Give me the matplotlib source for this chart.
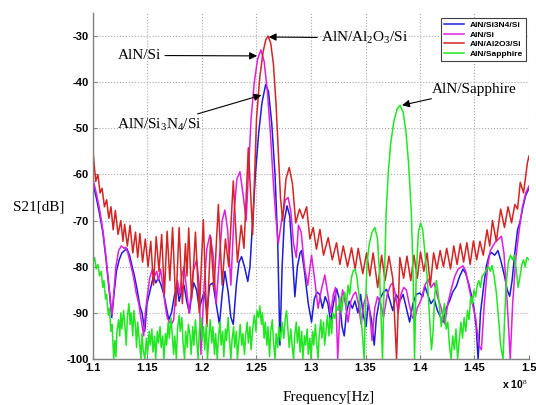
import matplotlib
matplotlib.use("Agg")
import matplotlib.pyplot as plt

plt.rcParams['mathtext.fontset'] = 'custom'
plt.rcParams['mathtext.rm'] = 'Liberation Serif'
plt.rcParams['mathtext.it'] = 'Liberation Serif:italic'

# ---------------- data (frequency in units of 1e8 Hz, S21 in dB) ----------------
red_x = [1.1000, 1.1025, 1.1045, 1.1065, 1.1083, 1.1105, 1.1125, 1.1145, 1.1165, 1.1185,
         1.1205, 1.1230, 1.1255, 1.1275, 1.1290, 1.1315, 1.1340, 1.1365, 1.1390, 1.1410,
         1.1430, 1.1455, 1.1480, 1.1505, 1.1530, 1.1555, 1.1580, 1.1605, 1.1630, 1.1655,
         1.1680, 1.1705, 1.1730, 1.1760, 1.1790, 1.1820, 1.1848, 1.1862, 1.1878, 1.1905,
         1.1940, 1.1975, 1.2012, 1.2045, 1.2080, 1.2110, 1.2150, 1.2185, 1.2215, 1.2245,
         1.2287, 1.2325, 1.2360, 1.2385, 1.2425, 1.2465, 1.2500, 1.2530, 1.2560, 1.2585,
         1.2606, 1.2630, 1.2655, 1.2680, 1.2700, 1.2720, 1.2740, 1.2770, 1.2800, 1.2830,
         1.2860, 1.2895, 1.2925, 1.2960, 1.2990, 1.3020, 1.3050, 1.3082, 1.3115, 1.3158,
         1.3195, 1.3234, 1.3265, 1.3296, 1.3335, 1.3372, 1.3405, 1.3433, 1.3475, 1.3510,
         1.3540, 1.3570, 1.3612, 1.3648, 1.3680, 1.3715, 1.3750, 1.3785, 1.3815, 1.3850,
         1.3880, 1.3915, 1.3945, 1.3975, 1.4005, 1.4035, 1.4065, 1.4095, 1.4125, 1.4155,
         1.4185, 1.4215, 1.4245, 1.4280, 1.4310, 1.4340, 1.4370, 1.4400, 1.4430, 1.4460,
         1.4490, 1.4520, 1.4550, 1.4580, 1.4615, 1.4640, 1.4665, 1.4700, 1.4740, 1.4775,
         1.4808, 1.4840, 1.4870, 1.4895, 1.4920, 1.4950, 1.4985, 1.5000]
red_y = [-55.0, -61.5, -60.0, -64.0, -63.0, -67.0, -65.5, -69.5, -67.0, -72.0,
         -67.8, -73.0, -70.0, -74.5, -70.8, -75.5, -71.0, -77.0, -72.5, -78.0,
         -72.8, -79.0, -74.0, -80.0, -74.5, -84.0, -73.5, -81.0, -73.0, -86.0,
         -72.3, -83.0, -71.5, -88.5, -71.5, -88.0, -75.0, -82.0, -71.6, -87.0,
         -72.5, -90.0, -69.8, -93.0, -73.5, -85.0, -66.5, -84.0, -74.0, -80.0,
         -61.4, -79.0, -71.0, -76.0, -54.2, -73.0, -48.0, -39.0, -33.5, -30.8,
         -30.0, -31.5, -36.0, -45.0, -55.0, -65.0, -70.0, -61.0, -58.5, -62.0,
         -70.5, -67.5, -69.5, -67.0, -74.0, -71.5, -76.2, -71.9, -77.5, -73.7,
         -78.5, -74.8, -79.5, -75.5, -80.0, -75.9, -80.5, -76.0, -81.5, -77.0,
         -82.0, -77.0, -84.5, -77.5, -83.0, -77.7, -82.5, -100.0, -78.0, -82.5,
         -77.7, -83.0, -77.5, -82.5, -76.8, -81.0, -77.0, -84.0, -77.0, -80.5,
         -76.5, -80.0, -76.0, -80.5, -75.5, -79.5, -75.0, -79.0, -74.8, -79.5,
         -74.4, -78.5, -74.5, -77.5, -72.0, -75.5, -70.0, -74.5, -67.5, -71.5,
         -67.0, -70.5, -66.5, -67.5, -61.7, -64.0, -57.5, -56.0]

mag_x = [1.1000, 1.1030, 1.1060, 1.1090, 1.1120, 1.1150, 1.1175, 1.1190, 1.1210, 1.1235,
         1.1260, 1.1285, 1.1300, 1.1320, 1.1345, 1.1370, 1.1395, 1.1420, 1.1445, 1.1465,
         1.1480, 1.1500, 1.1520, 1.1545, 1.1565, 1.1585, 1.1600, 1.1620, 1.1640, 1.1660,
         1.1680, 1.1700, 1.1720, 1.1740, 1.1755, 1.1775, 1.1795, 1.1815, 1.1835, 1.1855,
         1.1880, 1.1900, 1.1920, 1.1950, 1.1975, 1.1990, 1.2020, 1.2045, 1.2073, 1.2100,
         1.2130, 1.2160, 1.2185, 1.2210, 1.2235, 1.2265, 1.2295, 1.2320, 1.2348, 1.2375,
         1.2405, 1.2425, 1.2450, 1.2480, 1.2510, 1.2541, 1.2570, 1.2600, 1.2630, 1.2655,
         1.2680, 1.2700, 1.2730, 1.2765, 1.2790, 1.2815, 1.2840, 1.2865, 1.2885, 1.2910,
         1.2940, 1.2970, 1.3005, 1.3035, 1.3065, 1.3095, 1.3127, 1.3155, 1.3180, 1.3205,
         1.3225, 1.3245, 1.3265, 1.3290, 1.3315, 1.3340, 1.3365, 1.3390, 1.3410, 1.3435,
         1.3460, 1.3485, 1.3510, 1.3535, 1.3560, 1.3585, 1.3610, 1.3640, 1.3665, 1.3700,
         1.3730, 1.3750, 1.3775, 1.3800, 1.3825, 1.3850, 1.3875, 1.3900, 1.3930, 1.3950,
         1.3975, 1.4013, 1.4045, 1.4074, 1.4100, 1.4130, 1.4160, 1.4195, 1.4227, 1.4255,
         1.4285, 1.4320, 1.4350, 1.4395, 1.4420, 1.4445, 1.4480, 1.4510, 1.4540, 1.4563,
         1.4590, 1.4620, 1.4645, 1.4686, 1.4720, 1.4747, 1.4770, 1.4790, 1.4810, 1.4828,
         1.4850, 1.4880, 1.4910, 1.4940, 1.4970, 1.5000]
mag_y = [-61.0, -64.0, -67.5, -72.0, -78.0, -85.0, -90.5, -86.0, -80.0, -76.5,
         -75.5, -76.0, -75.8, -77.0, -79.5, -82.0, -85.5, -88.0, -92.0, -95.0,
         -90.0, -86.0, -82.5, -80.5, -82.0, -81.0, -83.0, -80.5, -84.0, -88.0,
         -91.0, -92.0, -92.5, -91.5, -87.0, -83.0, -86.0, -82.0, -80.0, -84.0,
         -90.0, -86.0, -81.0, -78.5, -84.0, -99.0, -84.0, -76.0, -73.1, -77.0,
         -88.0, -78.0, -70.0, -67.7, -72.0, -84.0, -68.0, -61.0, -59.4, -64.0,
         -70.0, -60.0, -48.0, -40.0, -35.0, -33.0, -35.5, -42.0, -52.0, -62.0,
         -70.0, -75.0, -70.0, -65.5, -65.0, -68.0, -75.0, -78.0, -71.0, -72.5,
         -80.0, -84.0, -77.5, -83.0, -89.0, -85.0, -81.8, -86.0, -90.0, -86.0,
         -84.5, -100.0, -90.0, -85.0, -88.0, -92.0, -87.5, -86.0, -85.5, -88.0,
         -92.5, -88.0, -86.0, -89.0, -96.0, -89.0, -86.5, -88.0, -91.0, -86.0,
         -84.0, -83.5, -86.0, -90.0, -86.0, -84.5, -85.0, -88.0, -91.0, -91.5,
         -89.0, -87.0, -84.0, -82.7, -84.5, -83.5, -86.5, -89.0, -92.4, -88.0,
         -85.0, -82.0, -80.5, -79.8, -81.0, -84.0, -88.0, -91.0, -97.0, -98.0,
         -88.0, -80.0, -76.5, -74.8, -74.0, -73.4, -77.0, -84.0, -92.0, -100.0,
         -88.0, -78.0, -72.0, -67.0, -64.0, -62.5]

blue_x = [1.1000, 1.1030, 1.1060, 1.1090, 1.1120, 1.1150, 1.1172, 1.1190, 1.1215, 1.1240,
          1.1265, 1.1290, 1.1310, 1.1335, 1.1360, 1.1380, 1.1405, 1.1430, 1.1450, 1.1475,
          1.1495, 1.1515, 1.1535, 1.1555, 1.1575, 1.1600, 1.1625, 1.1650, 1.1670, 1.1695,
          1.1720, 1.1745, 1.1770, 1.1790, 1.1810, 1.1835, 1.1860, 1.1885, 1.1905, 1.1925,
          1.1950, 1.1975, 1.2000, 1.2020, 1.2045, 1.2070, 1.2100, 1.2130, 1.2160, 1.2185,
          1.2210, 1.2240, 1.2265, 1.2287, 1.2315, 1.2340, 1.2363, 1.2390, 1.2420, 1.2440,
          1.2465, 1.2490, 1.2520, 1.2550, 1.2584, 1.2610, 1.2640, 1.2670, 1.2695, 1.2715,
          1.2735, 1.2755, 1.2780, 1.2805, 1.2830, 1.2852, 1.2875, 1.2900, 1.2913, 1.2940,
          1.2975, 1.3005, 1.3030, 1.3055, 1.3080, 1.3105, 1.3130, 1.3155, 1.3180, 1.3205,
          1.3235, 1.3260, 1.3285, 1.3305, 1.3325, 1.3350, 1.3380, 1.3403, 1.3430, 1.3455,
          1.3480, 1.3505, 1.3525, 1.3555, 1.3580, 1.3600, 1.3630, 1.3665, 1.3693, 1.3720,
          1.3750, 1.3780, 1.3815, 1.3845, 1.3875, 1.3905, 1.3935, 1.3965, 1.3999, 1.4025,
          1.4044, 1.4070, 1.4100, 1.4130, 1.4160, 1.4190, 1.4212, 1.4240, 1.4270, 1.4300,
          1.4334, 1.4365, 1.4395, 1.4420, 1.4445, 1.4470, 1.4495, 1.4515, 1.4533, 1.4555,
          1.4585, 1.4610, 1.4635, 1.4655, 1.4685, 1.4715, 1.4745, 1.4775, 1.4800, 1.4823,
          1.4845, 1.4870, 1.4895, 1.4915, 1.4945, 1.4970, 1.5000]
blue_y = [-62.0, -65.0, -68.5, -72.5, -78.5, -85.5, -91.0, -86.5, -81.0, -78.5,
          -77.0, -76.5, -76.0, -77.5, -80.0, -82.0, -85.0, -88.5, -90.0, -94.0,
          -88.0, -86.0, -84.0, -82.0, -83.5, -82.5, -84.0, -86.0, -88.5, -91.5,
          -90.0, -86.5, -84.0, -87.5, -85.5, -84.0, -87.5, -90.0, -86.0, -83.5,
          -85.0, -89.0, -87.0, -85.5, -90.0, -84.0, -83.5, -88.0, -92.5, -86.0,
          -81.0, -85.5, -91.0, -92.5, -84.0, -79.0, -77.8, -80.0, -83.2, -80.0,
          -70.0, -60.0, -51.0, -44.5, -40.5, -42.0, -49.0, -60.0, -75.0, -97.0,
          -80.0, -70.0, -66.8, -69.0, -78.0, -86.5, -80.0, -77.0, -76.5, -81.0,
          -88.0, -92.0, -87.0, -85.5, -86.0, -89.0, -86.5, -88.0, -92.0, -88.0,
          -84.8, -87.0, -93.0, -95.0, -90.0, -87.5, -89.0, -87.4, -90.0, -86.0,
          -90.5, -93.0, -88.0, -91.5, -97.0, -91.0, -87.0, -85.5, -84.9, -87.0,
          -89.5, -86.0, -87.4, -86.0, -89.0, -92.0, -88.0, -86.0, -85.7, -86.5,
          -84.2, -86.0, -88.0, -87.0, -89.5, -91.0, -92.0, -89.0, -87.5, -85.5,
          -84.2, -82.0, -80.5, -81.5, -83.5, -86.0, -89.0, -93.0, -100.0, -90.0,
          -84.0, -79.7, -77.5, -76.9, -77.5, -76.5, -79.0, -82.0, -85.0, -86.4,
          -83.0, -77.0, -72.0, -70.5, -67.0, -64.5, -63.0]

green_x = [1.1000, 1.1015, 1.1030, 1.1045, 1.1060, 1.1075, 1.1090, 1.1100, 1.1115, 1.1125,
           1.1140, 1.1150, 1.1165, 1.1175, 1.1190, 1.1200, 1.1210, 1.1220, 1.1235, 1.1245,
           1.1255, 1.1265, 1.1280, 1.1290, 1.1305, 1.1315, 1.1330, 1.1340, 1.1350, 1.1365,
           1.1375, 1.1390, 1.1400, 1.1410, 1.1425, 1.1440, 1.1450, 1.1460, 1.1475, 1.1490,
           1.1500, 1.1515, 1.1525, 1.1540, 1.1550, 1.1565, 1.1575, 1.1590, 1.1600, 1.1615,
           1.1625, 1.1640, 1.1650, 1.1665, 1.1675, 1.1690, 1.1700, 1.1715, 1.1725, 1.1740,
           1.1750, 1.1765, 1.1775, 1.1790, 1.1800, 1.1815, 1.1825, 1.1840, 1.1850, 1.1865,
           1.1875, 1.1890, 1.1900, 1.1915, 1.1925, 1.1940, 1.1950, 1.1965, 1.1975, 1.1990,
           1.2000, 1.2015, 1.2025, 1.2040, 1.2050, 1.2065, 1.2075, 1.2090, 1.2100, 1.2115,
           1.2125, 1.2140, 1.2150, 1.2165, 1.2175, 1.2190, 1.2200, 1.2215, 1.2225, 1.2240,
           1.2250, 1.2265, 1.2275, 1.2290, 1.2300, 1.2315, 1.2325, 1.2340, 1.2350, 1.2365,
           1.2375, 1.2390, 1.2400, 1.2415, 1.2425, 1.2440, 1.2450, 1.2465, 1.2480, 1.2495,
           1.2505, 1.2520, 1.2530, 1.2545, 1.2555, 1.2570, 1.2580, 1.2595, 1.2605, 1.2620,
           1.2630, 1.2645, 1.2655, 1.2670, 1.2680, 1.2695, 1.2705, 1.2720, 1.2735, 1.2750,
           1.2765, 1.2776, 1.2790, 1.2800, 1.2815, 1.2825, 1.2840, 1.2850, 1.2865, 1.2875,
           1.2890, 1.2900, 1.2915, 1.2925, 1.2940, 1.2950, 1.2965, 1.2975, 1.2990, 1.3000,
           1.3015, 1.3025, 1.3040, 1.3050, 1.3065, 1.3075, 1.3090, 1.3100, 1.3115, 1.3125,
           1.3140, 1.3150, 1.3165, 1.3175, 1.3190, 1.3200, 1.3219, 1.3235, 1.3250, 1.3265,
           1.3280, 1.3295, 1.3310, 1.3325, 1.3340, 1.3355, 1.3370, 1.3385, 1.3403, 1.3420,
           1.3440, 1.3460, 1.3475, 1.3488, 1.3500, 1.3515, 1.3535, 1.3560, 1.3586, 1.3610,
           1.3630, 1.3645, 1.3656, 1.3670, 1.3690, 1.3708, 1.3730, 1.3760, 1.3790, 1.3817,
           1.3845, 1.3870, 1.3895, 1.3920, 1.3935, 1.3950, 1.3965, 1.3985, 1.4005, 1.4025,
           1.4045, 1.4065, 1.4085, 1.4105, 1.4120, 1.4135, 1.4150, 1.4165, 1.4180, 1.4195,
           1.4210, 1.4225, 1.4240, 1.4255, 1.4270, 1.4285, 1.4300, 1.4315, 1.4330, 1.4345,
           1.4360, 1.4375, 1.4390, 1.4405, 1.4420, 1.4435, 1.4450, 1.4465, 1.4480, 1.4495,
           1.4510, 1.4525, 1.4540, 1.4555, 1.4570, 1.4590, 1.4610, 1.4630, 1.4645, 1.4660,
           1.4680, 1.4700, 1.4720, 1.4740, 1.4762, 1.4775, 1.4790, 1.4810, 1.4830, 1.4850,
           1.4865, 1.4880, 1.4900, 1.4915, 1.4935, 1.4950, 1.4965, 1.4980, 1.5000]
green_y = [-79.0, -78.0, -80.5, -79.5, -82.0, -81.0, -84.5, -83.0, -87.0, -86.0,
           -90.5, -89.0, -94.0, -92.5, -100.0, -96.0, -99.5, -94.0, -91.5, -95.0,
           -90.0, -93.5, -89.5, -92.0, -97.0, -91.0, -88.0, -92.5, -90.0, -95.0,
           -89.5, -93.0, -97.5, -92.0, -96.0, -100.0, -94.5, -98.0, -100.0, -95.5,
           -99.0, -94.0, -97.0, -93.5, -98.5, -95.0, -100.0, -94.0, -96.5, -93.0,
           -97.5, -95.0, -100.0, -94.5, -97.0, -92.0, -95.5, -91.0, -94.0, -99.0,
           -95.0, -100.0, -93.5, -90.5, -94.0, -91.0, -96.0, -100.0, -94.0, -97.5,
           -92.5, -95.0, -99.0, -93.0, -97.0, -91.5, -95.5, -100.0, -94.0, -91.0,
           -96.0, -93.0, -98.0, -92.5, -100.0, -95.0, -91.5, -96.5, -93.0, -99.0,
           -94.5, -100.0, -95.5, -92.0, -97.0, -94.0, -99.5, -93.5, -96.0, -91.0,
           -95.0, -100.0, -96.0, -93.0, -97.5, -94.0, -100.0, -95.5, -92.5, -97.0,
           -94.5, -99.0, -95.0, -92.0, -96.5, -93.0, -98.0, -93.5, -90.5, -94.0,
           -89.5, -91.0, -88.5, -92.5, -90.0, -95.5, -92.0, -97.0, -93.0, -99.5,
           -94.0, -91.5, -96.0, -100.0, -94.5, -97.5, -93.0, -96.0, -92.0, -95.5,
           -91.0, -89.5, -94.0, -97.5, -93.5, -96.5, -100.0, -95.0, -92.0, -96.5,
           -93.0, -98.5, -94.0, -100.0, -95.0, -97.0, -93.5, -99.0, -95.5, -100.0,
           -94.0, -97.0, -92.5, -96.0, -100.0, -95.0, -91.5, -95.5, -92.0, -97.0,
           -93.5, -90.5, -95.0, -91.0, -94.5, -90.0, -91.2, -88.5, -89.5, -86.5,
           -90.0, -87.0, -85.5, -88.5, -84.0, -86.0, -82.5, -81.0, -80.5, -82.0,
           -86.0, -91.0, -96.0, -100.0, -88.0, -79.0, -75.0, -72.5, -71.5, -74.0,
           -82.0, -92.0, -100.0, -85.0, -68.0, -60.0, -53.5, -48.5, -45.8, -45.0,
           -46.5, -50.5, -57.5, -68.0, -80.0, -100.0, -82.0, -72.5, -70.5, -72.0,
           -77.0, -82.0, -90.0, -98.0, -94.0, -86.0, -83.0, -85.5, -89.0, -93.0,
           -90.0, -88.0, -93.5, -92.0, -97.0, -100.0, -95.0, -98.0, -93.5, -100.0,
           -96.0, -92.0, -95.5, -91.0, -94.0, -89.5, -91.5, -86.5, -88.0, -85.0,
           -86.5, -84.0, -83.0, -84.5, -82.0, -81.5, -80.5, -80.0, -81.0, -79.7,
           -82.0, -85.5, -91.0, -97.0, -100.0, -92.0, -84.0, -79.0, -77.5, -78.5,
           -77.5, -80.0, -84.5, -82.5, -79.5, -78.5, -80.0, -78.0, -78.5]

series_names = ["AlN/Si3N4/Si", "AlN/Si", "AlN/Al2O3/Si", "AlN/Sapphire"]
series_colors = ["#1c1cdc", "#e01ee0", "#d42424", "#22e622"]

xtick_vals = [1.1, 1.15, 1.2, 1.25, 1.3, 1.35, 1.4, 1.45, 1.5]
xtick_labels = ["1.1", "1.15", "1.2", "1.25", "1.3", "1.35", "1.4", "1.45", "1.5"]
ytick_vals = [-100, -90, -80, -70, -60, -50, -40, -30]
ytick_labels = ["-100", "-90", "-80", "-70", "-60", "-50", "-40", "-30"]

# ---------------- figure ----------------
W, H = 536, 405
fig = plt.figure(figsize=(W / 100, H / 100), dpi=100)
ax = fig.add_axes([93 / W, 1 - 359 / H, 436 / W, 346 / H])

xs = [blue_x, mag_x, red_x, green_x]
ys = [blue_y, mag_y, red_y, green_y]
for x, y, name, c in zip(xs, ys, series_names, series_colors):
    ax.plot(x, y, color=c, lw=1.1, label=name, solid_joinstyle="round")

ax.set_xlim(1.1, 1.5)
ax.set_ylim(-100, -25)

sans = "Liberation Sans"
serif = "Liberation Serif"
ax.set_xticks(xtick_vals)
ax.set_xticklabels(xtick_labels, fontsize=8, fontweight="bold", family=sans)
ax.set_yticks(ytick_vals)
ax.set_yticklabels(ytick_labels, fontsize=8, fontweight="bold", family=sans)
ax.tick_params(direction="in", length=3, width=0.8, color="#808080", pad=3)

ax.grid(True, linestyle=":", color="#a8a8a8", linewidth=0.8)
ax.set_axisbelow(True)
for s in ["top", "right"]:
    ax.spines[s].set_visible(False)
for s in ["left", "bottom"]:
    ax.spines[s].set_color("#808080")
    ax.spines[s].set_linewidth(1.0)

leg = ax.legend(loc="upper right", bbox_to_anchor=(0.993, 0.985),
                prop={"family": sans, "weight": "bold", "size": 6},
                handlelength=2.4, handletextpad=0.6, labelspacing=0.2,
                borderpad=0.4, fancybox=False, framealpha=1, borderaxespad=0)
leg.get_frame().set_edgecolor("#404040")
leg.get_frame().set_linewidth(0.8)

arrow = dict(arrowstyle="-|>", color="black", lw=0.8, mutation_scale=11,
             shrinkA=1, shrinkB=0)
tfont = dict(family=serif, fontsize=11)
ax.annotate(r"AlN/Al$_2$O$_3$/Si", xy=(1.2612, -30.2), xytext=(1.3095, -30.4),
            ha="left", va="center", arrowprops=arrow, **tfont)
ax.annotate("AlN/Si", xy=(1.2505, -34.3), xytext=(1.1225, -34.2),
            ha="left", va="center", arrowprops=arrow, **tfont)
ax.annotate(r"AlN/Si$_3$N$_4$/Si", xy=(1.2545, -42.8), xytext=(1.1222, -49.3),
            ha="left", va="center", arrowprops=arrow, **tfont)
ax.annotate("AlN/Sapphire", xy=(1.3835, -45.0), xytext=(1.4110, -41.5),
            ha="left", va="center", arrowprops=arrow, **tfont)

fig.text(39 / W, 1 - 207 / H, "S21[dB]", ha="center", va="center",
         family=serif, fontsize=11)
fig.text(329 / W, 1 - 397 / H, "Frequency[Hz]", ha="center", va="center",
         family=serif, fontsize=11)
fig.text(515 / W, 1 - 385 / H, r"x 10$^{8}$", ha="center", va="center",
         family=sans, fontsize=7.5, fontweight="bold")

fig.savefig("out.png", dpi=100, facecolor="white")
